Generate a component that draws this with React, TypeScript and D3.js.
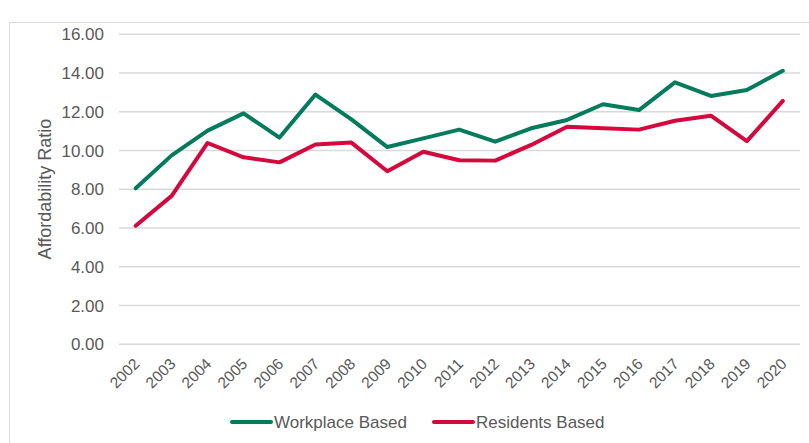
import React, { useEffect, useRef } from 'react';
import * as d3 from 'd3';

const years: string[] = [
  '2002', '2003', '2004', '2005', '2006', '2007', '2008', '2009', '2010', '2011',
  '2012', '2013', '2014', '2015', '2016', '2017', '2018', '2019', '2020',
];

const workplaceBased: number[] = [
  8.05, 9.75, 11.03, 11.92, 10.67, 12.89, 11.61, 10.18, 10.63, 11.08,
  10.46, 11.15, 11.58, 12.39, 12.09, 13.52, 12.82, 13.13, 14.12,
];

const residentsBased: number[] = [
  6.12, 7.66, 10.39, 9.65, 9.39, 10.31, 10.41, 8.93, 9.94, 9.5,
  9.48, 10.29, 11.23, 11.15, 11.08, 11.54, 11.8, 10.49, 12.56,
];

const yTicks: number[] = [0, 2, 4, 6, 8, 10, 12, 14, 16];

const seriesNames: string[] = ['Workplace Based', 'Residents Based'];
const seriesColors: string[] = ['#037b5c', '#d6073d'];

const W = 809;
const H = 443;
const FONT = 'Arial, "Liberation Sans", sans-serif';
const TEXT = '#595959';

const App: React.FC = () => {
  const svgRef = useRef<SVGSVGElement | null>(null);

  useEffect(() => {
    const svg = d3.select(svgRef.current!);
    svg.selectAll('*').remove();

    // outer chart frame (cut off at right and bottom)
    svg
      .append('rect')
      .attr('x', 9.5)
      .attr('y', 22.5)
      .attr('width', 900)
      .attr('height', 500)
      .attr('fill', 'white')
      .attr('stroke', '#d9d9d9')
      .attr('stroke-width', 1);

    const plotLeft = 119;
    const plotRight = 800;

    const x = d3
      .scalePoint<string>()
      .domain(years)
      .range([135.7, 782.8]);

    const y = d3.scaleLinear().domain([0, 16]).range([344.3, 34.3]);

    // gridlines
    svg
      .append('g')
      .selectAll('line')
      .data(yTicks)
      .enter()
      .append('line')
      .attr('x1', plotLeft)
      .attr('x2', plotRight)
      .attr('y1', (d) => y(d))
      .attr('y2', (d) => y(d))
      .attr('stroke', '#d9d9d9')
      .attr('stroke-width', 1.5);

    // y tick labels
    svg
      .append('g')
      .selectAll('text')
      .data(yTicks)
      .enter()
      .append('text')
      .attr('x', 104)
      .attr('y', (d) => y(d))
      .attr('dy', '0.35em')
      .attr('text-anchor', 'end')
      .attr('font-family', FONT)
      .attr('font-size', 17)
      .attr('fill', TEXT)
      .text((d) => d.toFixed(2));

    // x tick labels
    svg
      .append('g')
      .selectAll('text')
      .data(years)
      .enter()
      .append('text')
      .attr('transform', (d) => `translate(${(x(d) as number) + 1}, 361) rotate(-45)`)
      .attr('text-anchor', 'end')
      .attr('dy', '0.35em')
      .attr('font-family', FONT)
      .attr('font-size', 15.5)
      .attr('fill', TEXT)
      .text((d) => d);

    // y axis title
    svg
      .append('text')
      .attr('transform', 'translate(51, 189) rotate(-90)')
      .attr('text-anchor', 'middle')
      .attr('font-family', FONT)
      .attr('font-size', 18)
      .attr('fill', TEXT)
      .text('Affordability Ratio');

    // lines
    const line = d3
      .line<number>()
      .x((_, i) => x(years[i]) as number)
      .y((d) => y(d));

    [workplaceBased, residentsBased].forEach((values, i) => {
      svg
        .append('path')
        .datum(values)
        .attr('d', line)
        .attr('fill', 'none')
        .attr('stroke', seriesColors[i])
        .attr('stroke-width', 4)
        .attr('stroke-linejoin', 'round')
        .attr('stroke-linecap', 'round');
    });

    // legend
    const legendX = [231, 433];
    const legendY = 422;
    seriesNames.forEach((name, i) => {
      const g = svg.append('g').attr('transform', `translate(${legendX[i]}, ${legendY})`);
      g.append('line')
        .attr('x1', 1)
        .attr('x2', 40)
        .attr('y1', 0)
        .attr('y2', 0)
        .attr('stroke', seriesColors[i])
        .attr('stroke-width', 4)
        .attr('stroke-linecap', 'round');
      g.append('text')
        .attr('x', 43)
        .attr('y', 0)
        .attr('dy', '0.35em')
        .attr('font-family', FONT)
        .attr('font-size', 17)
        .attr('fill', TEXT)
        .text(name);
    });
  }, []);

  return (
    <svg
      ref={svgRef}
      width={W}
      height={H}
      style={{ position: 'absolute', left: 0, top: 0, background: 'white' }}
    />
  );
};

export default App;
